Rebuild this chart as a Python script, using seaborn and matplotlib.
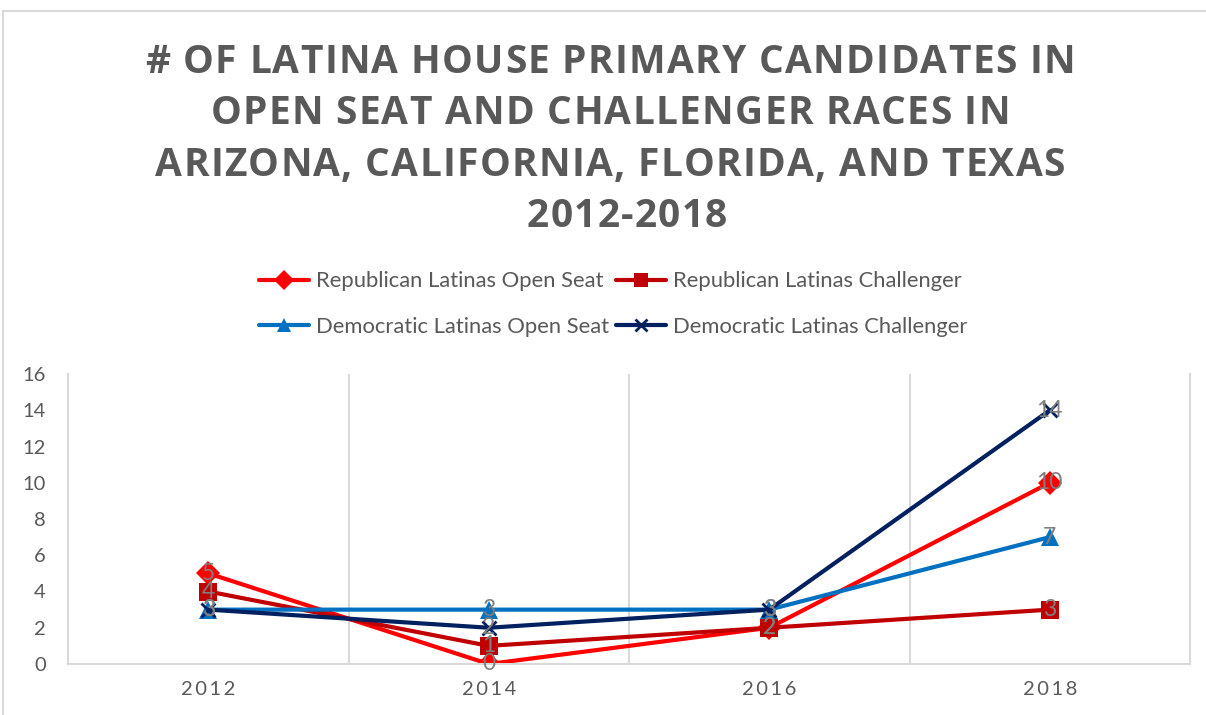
import matplotlib
matplotlib.use("Agg")
import matplotlib.pyplot as plt
from matplotlib.lines import Line2D
from matplotlib.colors import to_hex
import seaborn as sns
import pandas as pd

years = ["2012", "2014", "2016", "2018"]
series_names = [
    "Republican Latinas Open Seat",
    "Republican Latinas Challenger",
    "Democratic Latinas Open Seat",
    "Democratic Latinas Challenger",
]
rep_open = [5, 0, 2, 10]
rep_challenger = [4, 1, 2, 3]
dem_open = [3, 3, 3, 7]
dem_challenger = [3, 2, 3, 14]

title_lines = [
    "# OF LATINA HOUSE PRIMARY CANDIDATES IN",
    "OPEN SEAT AND CHALLENGER RACES IN",
    "ARIZONA, CALIFORNIA, FLORIDA, AND TEXAS",
    "2012-2018",
]

colors = {
    series_names[0]: "#FF0000",
    series_names[1]: "#C00000",
    series_names[2]: "#0070C0",
    series_names[3]: "#002060",
}
markers = {
    series_names[0]: "D",
    series_names[1]: "s",
    series_names[2]: "^",
    series_names[3]: "X",
}
TEXT_GREY = "#595959"
GRID_GREY = "#D9D9D9"

values = [rep_open, rep_challenger, dem_open, dem_challenger]
rows = []
for name, vals in zip(series_names, values):
    for i, v in enumerate(vals):
        rows.append({"series": name, "pos": i, "count": v})
df = pd.DataFrame(rows)

sns.set_theme(style="white")
plt.rcParams["font.family"] = ["Lato", "DejaVu Sans"]

W, H = 1206, 715
fig = plt.figure(figsize=(W / 100, H / 100), dpi=100)
ax = fig.add_axes([68 / W, 1 - 664 / H, (1190 - 68) / W, (664 - 374) / H])

sns.lineplot(
    data=df, x="pos", y="count", hue="series", style="series",
    hue_order=series_names, style_order=series_names,
    palette=colors, markers=markers, dashes=False, ax=ax,
    linewidth=3.0, markersize=12.5, legend=False,
)

# marker styling: solid fill for shapes, thin cross for the challenger line
for ln in ax.get_lines():
    c = to_hex(ln.get_color()).upper()
    ln.set_markeredgecolor(ln.get_color())
    if c == colors[series_names[3]]:
        ln.set_marker("x")
        ln.set_markersize(10)
        ln.set_markeredgewidth(2.0)
    else:
        ln.set_markeredgewidth(0)

# value labels centred on each marker
for name, vals in zip(series_names, values):
    for i, v in enumerate(vals):
        ax.text(i, v, str(v), ha="center", va="center", fontsize=16.5,
                color="#7F7F7F", zorder=5)

ax.set_xlim(-0.5, 3.5)
ax.set_ylim(0, 16)
ax.set_yticks(range(0, 17, 2))
ax.set_xticks(range(len(years)))
ax.set_xticklabels(["\u2009".join(y) for y in years])
ax.tick_params(axis="y", length=0, pad=16, labelsize=14.5, labelcolor=TEXT_GREY)
ax.tick_params(axis="x", length=0, pad=12, labelsize=14.5, labelcolor=TEXT_GREY)
ax.set_xlabel("")
ax.set_ylabel("")

for b in [0.5, 1.5, 2.5]:
    ax.axvline(b, color=GRID_GREY, lw=1.5, zorder=0)
ax.spines["top"].set_visible(False)
for side in ["left", "right", "bottom"]:
    ax.spines[side].set_color(GRID_GREY)
    ax.spines[side].set_linewidth(1.5)

# legend, filled row by row
handles = {}
for n in series_names:
    if n == series_names[3]:
        handles[n] = Line2D([0], [0], color=colors[n], marker="x", lw=3.0,
                            markersize=8, markeredgewidth=2.0)
    else:
        handles[n] = Line2D([0], [0], color=colors[n], marker=markers[n], lw=3.0,
                            markersize=10, markeredgewidth=0)
col_order = [series_names[0], series_names[2], series_names[1], series_names[3]]
fig.legend(
    [handles[n] for n in col_order], col_order, loc="center", ncol=2,
    bbox_to_anchor=(613 / W, 1 - 304 / H), frameon=False,
    fontsize=15.8, labelcolor=TEXT_GREY, handlelength=2.3,
    handletextpad=0.3, columnspacing=0.3, labelspacing=1.15,
)


def tracked_line(text, xc, baseline, target_width=None, track=None, **kw):
    """Draw one title line char by char with extra letter spacing."""
    renderer = fig.canvas.get_renderer()

    def width(s):
        t = fig.text(0, 0, s, **kw)
        w = t.get_window_extent(renderer).width
        t.remove()
        return w

    base = width("HH")
    adv = [width("H" + ch + "H") - base for ch in text]
    natural = sum(adv)
    if track is None:
        track = (target_width - natural) / (len(text) - 1)
    total = natural + track * (len(text) - 1)
    x = xc - total / 2
    for ch, a in zip(text, adv):
        fig.text((x + a / 2) / W, 1 - baseline / H, ch, ha="center",
                 va="baseline", **kw)
        x += a + track
    return track


title_kw = dict(fontsize=28, fontweight="bold", color=TEXT_GREY,
                family=["Open Sans", "DejaVu Sans"])
trk = tracked_line(title_lines[0], 610, 73, target_width=930, **title_kw)
tracked_line(title_lines[1], 610, 124, track=trk, **title_kw)
tracked_line(title_lines[2], 610, 176.5, track=trk, **title_kw)
tracked_line(title_lines[3], 627, 227, track=trk, **title_kw)

# chart border
fig.add_artist(Line2D([3.5 / W, 3.5 / W], [0, 1 - 10.5 / H], color=GRID_GREY, lw=1.5))
fig.add_artist(Line2D([3.5 / W, 1], [1 - 10.5 / H, 1 - 10.5 / H], color=GRID_GREY, lw=1.5))

fig.savefig("out.png", dpi=100, facecolor="white")
